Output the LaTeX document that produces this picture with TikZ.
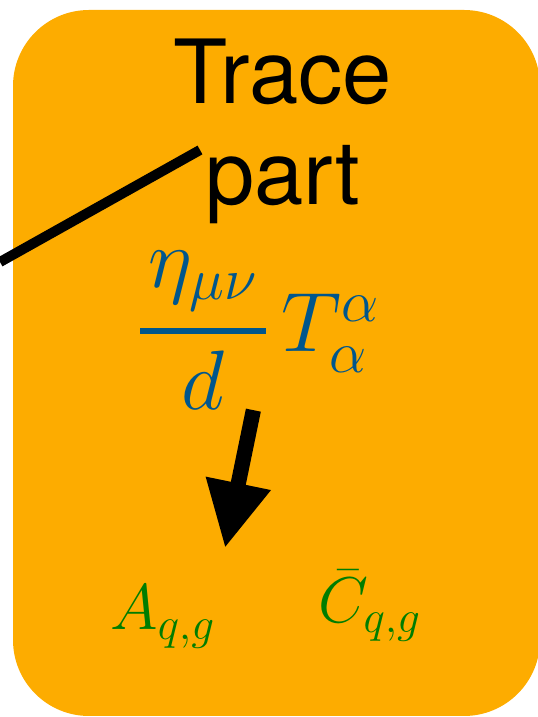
\documentclass[tikz,border=0pt]{standalone}
\usepackage{fix-cm}
\usepackage{amsmath}
\usepackage{fontspec}
\setsansfont{TeX Gyre Heros}
\usetikzlibrary{arrows.meta,calc}
\definecolor{boxorange}{RGB}{253,172,0}
\definecolor{formblue}{RGB}{0,86,140}
\definecolor{coefgreen}{RGB}{0,125,0}

\begin{document}
\begin{tikzpicture}[x=0.025cm,y=0.025cm,
  panel/.style={fill=boxorange,rounded corners=1.9cm},
  title/.style={font=\sffamily\fontsize{63}{72}\selectfont,align=center,inner sep=0pt},
  formula/.style={text=formblue,inner sep=0pt,font=\fontsize{60}{72}\selectfont},
  coef/.style={text=coefgreen,inner sep=0pt,font=\fontsize{46}{55}\selectfont},
  lead/.style={line width=0.25cm},
  push/.style={-{Triangle[length=1.65cm,width=1.55cm]},line width=0.38cm}]
\useasboundingbox (0,0) rectangle (538,717);
\fill[panel] (13,1) rectangle (540,707);
\node[title,anchor=base] (title) at (283,512) {Trace\\part};
\node[formula,anchor=base] (frac) at (259,365)
  {$\genfrac{}{}{4pt}{0}{\hspace{6pt}\eta_{\mu\nu}\hspace{6pt}}{d}\mkern3mu T^{\alpha}_{\alpha}$};
\node[coef,anchor=base west] (acoef) at (110,87) {$A_{q,g}$};
\node[coef,anchor=base west] (ccoef) at (318,94) {$\bar{C}_{q,g}$};
% line running in from the left
\coordinate (cut) at (0,455);
\draw[lead] (cut) -- ($(title.base)+(-83,55)$);
% trace part splits into the two coefficients
\coordinate (aim) at (225,169);
\draw[push] ([xshift=-4]frac.south) -- (aim);
\end{tikzpicture}
\end{document}
